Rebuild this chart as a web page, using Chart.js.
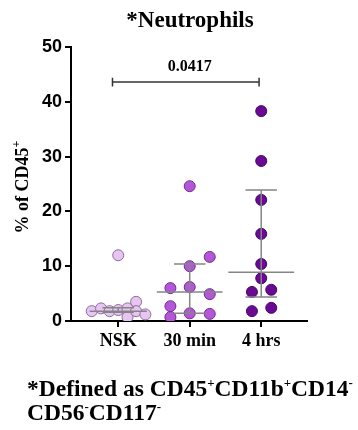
<!DOCTYPE html>
<html>
<head>
<meta charset="utf-8">
<script src="https://cdn.jsdelivr.net/npm/chart.js@4.4.1/dist/chart.umd.min.js"></script>
<style>
  html, body { margin: 0; padding: 0; background: #fff; }
  #wrap { position: relative; width: 358px; height: 430px; }
  #foot { position: absolute; left: 27px; top: 376px; font-family: "Liberation Serif", serif; font-weight: bold; font-size: 23.5px; line-height: 24px; color: #000; white-space: nowrap; }
  #foot sup { font-size: 0.55em; vertical-align: 0.7em; line-height: 0; }
</style>
</head>
<body>
<div id="wrap">
  <canvas id="c" width="358" height="430"></canvas>
  <div id="foot">*Defined as CD45<sup>+</sup>CD11b<sup>+</sup>CD14<sup>-</sup><br>CD56<sup>-</sup>CD117<sup>-</sup></div>
</div>
<script>
const categories = ['NSK', '30 min', '4 hrs'];
const yTicks = [0, 10, 20, 30, 40, 50];

const nskValues = [12.0, 1.8, 2.3, 1.8, 2.0, 2.3, 0.7, 3.5, 1.8, 1.2];
const nskOffsets = [0, -0.37, -0.24, -0.12, 0, 0.13, 0.13, 0.25, 0.25, 0.38];

const min30Values = [24.6, 11.7, 10.0, 6.0, 6.2, 4.9, 2.7, 0.7, 1.4, 1.3];
const min30Offsets = [0, 0.28, 0, -0.27, 0, 0.28, -0.27, -0.27, 0, 0.28];

const hrs4Values = [38.3, 29.2, 22.1, 15.9, 10.4, 7.8, 5.3, 5.7, 1.8, 2.4];
const hrs4Offsets = [0, 0, 0, 0, 0, 0, -0.13, 0.14, -0.13, 0.14];

const medians = [1.8, 5.3, 8.9];
const lowerQ = [1.6, 1.4, 4.4];
const upperQ = [2.4, 10.4, 23.9];

const sigLabel = '0.0417';
const sigFrom = -0.08, sigTo = 1.97, sigY = 43.6;

const fills = ['#e6c6f0', '#b456da', '#6a0a92'];
const borders = ['#8f6aa0', '#6e2f8c', '#46066a'];

function pts(vals, offs, idx) {
  return vals.map((v, k) => ({ x: idx + offs[k], y: v }));
}
function errBar(i) {
  const mw = i === 0 ? 0.4 : 0.46, cw = 0.22;
  return [
    { x: i - mw, y: medians[i] }, { x: i + mw, y: medians[i] }, { x: i, y: null },
    { x: i - cw, y: upperQ[i] }, { x: i + cw, y: upperQ[i] }, { x: i, y: null },
    { x: i - cw, y: lowerQ[i] }, { x: i + cw, y: lowerQ[i] }, { x: i, y: null },
    { x: i, y: lowerQ[i] }, { x: i, y: upperQ[i] }
  ];
}
const errData = [0, 1, 2].flatMap(i => errBar(i).concat([{ x: i, y: null }]));
const sigData = [
  { x: sigFrom, y: sigY + 0.8 }, { x: sigFrom, y: sigY - 0.8 }, { x: sigFrom, y: null },
  { x: sigFrom, y: sigY }, { x: sigTo, y: sigY }, { x: sigTo, y: null },
  { x: sigTo, y: sigY + 0.8 }, { x: sigTo, y: sigY - 0.8 }
];

const SERIF = '"Liberation Serif", "Times New Roman", serif';
const SANS = '"Liberation Sans", Arial, sans-serif';

const textPlugin = {
  id: 'texts',
  afterDraw(chart) {
    const ctx = chart.ctx;
    const xs = chart.scales.x, ys = chart.scales.y;
    ctx.save();
    ctx.fillStyle = '#000';
    ctx.font = 'bold 23px ' + SERIF;
    ctx.textAlign = 'center';
    ctx.textBaseline = 'alphabetic';
    ctx.fillText('*Neutrophils', 190, 27);
    ctx.font = 'bold 16px ' + SERIF;
    ctx.textBaseline = 'middle';
    ctx.fillText(sigLabel, xs.getPixelForValue(1), ys.getPixelForValue(46.3));
    ctx.translate(28, 187);
    ctx.rotate(-Math.PI / 2);
    ctx.textBaseline = 'alphabetic';
    ctx.textAlign = 'left';
    const main = '% of CD45';
    ctx.font = 'bold 18px ' + SERIF;
    const w1 = ctx.measureText(main).width;
    ctx.font = 'bold 12px ' + SERIF;
    const w2 = ctx.measureText('+').width;
    const start = -(w1 + w2) / 2;
    ctx.font = 'bold 18px ' + SERIF;
    ctx.fillText(main, start, 0);
    ctx.font = 'bold 12px ' + SERIF;
    ctx.fillText('+', start + w1, -8);
    ctx.restore();
  }
};

new Chart(document.getElementById('c'), {
  type: 'scatter',
  data: {
    datasets: [
      { data: errData, showLine: true, borderColor: '#858585', borderWidth: 1.5, pointRadius: 0, spanGaps: false },
      { data: sigData, showLine: true, borderColor: '#333', borderWidth: 1.5, pointRadius: 0, spanGaps: false },
      { data: pts(nskValues, nskOffsets, 0), backgroundColor: fills[0], borderColor: borders[0], borderWidth: 1, pointRadius: 5.5 },
      { data: pts(min30Values, min30Offsets, 1), backgroundColor: fills[1], borderColor: borders[1], borderWidth: 1, pointRadius: 5.5 },
      { data: pts(hrs4Values, hrs4Offsets, 2), backgroundColor: fills[2], borderColor: borders[2], borderWidth: 1, pointRadius: 5.5 }
    ]
  },
  options: {
    responsive: false,
    animation: false,
    layout: { padding: { top: 47, right: 51, left: 0, bottom: 0 } },
    plugins: { legend: { display: false }, tooltip: { enabled: false }, title: { display: false } },
    scales: {
      x: {
        type: 'linear', min: -0.66, max: 2.64,
        afterBuildTicks: s => { s.ticks = [0, 1, 2].map(v => ({ value: v })); },
        afterFit: s => { s.height = 109; },
        ticks: { callback: v => categories[v], color: '#000', font: { family: SERIF, weight: 'bold', size: 18 }, padding: 4, maxRotation: 0, autoSkip: false },
        grid: { drawOnChartArea: false, tickLength: 6, color: '#000', lineWidth: 2 },
        border: { color: '#000', width: 2 }
      },
      y: {
        min: 0, max: 50,
        afterBuildTicks: s => { s.ticks = yTicks.map(v => ({ value: v })); },
        afterFit: s => { s.width = 71; },
        ticks: { color: '#000', font: { family: SANS, weight: 'bold', size: 18 }, padding: 3 },
        grid: { drawOnChartArea: false, tickLength: 6, color: '#000', lineWidth: 2 },
        border: { color: '#000', width: 2 }
      }
    }
  },
  plugins: [textPlugin]
});
</script>
</body>
</html>
